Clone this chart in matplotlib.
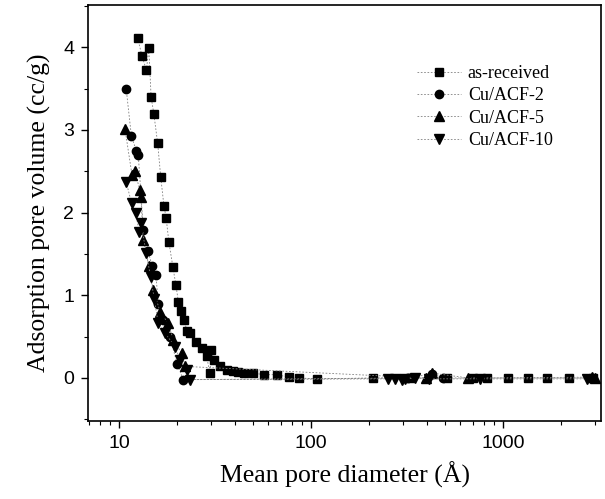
import numpy as np
import matplotlib.pyplot as plt
from matplotlib.ticker import MultipleLocator, LogLocator, NullFormatter

# pore size distribution
as_received_x = [12.5, 14.3, 13.2, 13.9, 14.7, 15.2, 15.9, 16.5, 17.15, 17.6, 18.2, 19.1,
                 19.8, 20.4, 20.95, 21.7, 22.7, 23.4, 25.2, 27.0, 28.6, 30.2, 29.8, 31.2,
                 33.6, 36.4, 39.4, 41.7, 44.6, 50.0, 56.9, 66.2, 76.7, 86.8, 107.6,
                 211, 328, 509, 699, 822, 1066, 1346, 1688, 2213, 2950]
as_received_y = [4.11, 3.99, 3.89, 3.72, 3.40, 3.19, 2.84, 2.43, 2.08, 1.94, 1.64, 1.34,
                 1.12, 0.92, 0.81, 0.70, 0.57, 0.54, 0.44, 0.36, 0.26, 0.34, 0.06, 0.22,
                 0.14, 0.10, 0.09, 0.07, 0.06, 0.06, 0.04, 0.04, 0.01, 0.0, -0.01,
                 0.0, 0.0, 0.0, 0.0, 0.0, 0.0, 0.0, 0.0, 0.0, 0.0]

acf2_x = [10.9, 11.6, 12.3, 12.6, 13.4, 14.2, 14.9, 15.6, 16.0, 16.9, 18.4, 20.1, 21.6,
          322, 425, 490]
acf2_y = [3.50, 2.93, 2.75, 2.70, 1.79, 1.53, 1.35, 1.24, 0.89, 0.70, 0.50, 0.17, -0.02,
          0.0, 0.05, 0.0]

acf5_x = [10.75, 11.7, 12.1, 12.85, 13.0, 13.4, 14.3, 15.1, 16.4, 18.05, 19.2, 21.2, 22.1,
          397, 425, 660, 2900, 3000]
acf5_y = [3.01, 2.45, 2.50, 2.27, 2.19, 1.67, 1.35, 1.06, 0.80, 0.66, 0.46, 0.30, 0.14,
          0.0, 0.06, 0.0, 0.01, 0.0]

acf10_x = [10.9, 11.65, 12.2, 12.97, 12.76, 13.9, 14.6, 15.3, 16.0, 17.4, 19.6, 20.8, 22.5,
           23.4, 252, 274, 297, 309, 349, 411, 759, 2729]
acf10_y = [2.37, 2.11, 1.99, 1.87, 1.77, 1.51, 1.22, 0.95, 0.66, 0.54, 0.38, 0.22, 0.10,
           -0.02, -0.01, -0.01, -0.02, -0.01, 0.0, -0.01, -0.01, -0.01]

labels = ['as-received', 'Cu/ACF-2', 'Cu/ACF-5', 'Cu/ACF-10']

serif = ['Liberation Serif', 'DejaVu Serif']
sans = ['Liberation Sans', 'DejaVu Sans']

fig = plt.figure(figsize=(6.05, 4.99), dpi=100)
ax = fig.add_axes([0.1455, 0.1563, 0.8479, 0.8337])

def order(x, y):
    x = np.array(x)
    y = np.array(y)
    i = np.argsort(x, kind='stable')
    return x[i], y[i]

line_kw = dict(color='0.5', lw=0.6, ls=(0, (2, 2)), mfc='black', mec='black')
x, y = order(as_received_x, as_received_y)
ax.plot(x, y, marker='s', ms=5.5, label=labels[0], **line_kw)
x, y = order(acf2_x, acf2_y)
ax.plot(x, y, marker='o', ms=6, label=labels[1], **line_kw)
x, y = order(acf5_x, acf5_y)
ax.plot(x, y, marker='^', ms=7, label=labels[2], **line_kw)
x, y = order(acf10_x, acf10_y)
ax.plot(x, y, marker='v', ms=7, label=labels[3], **line_kw)

ax.set_xscale('log')
ax.set_xlim(6.9, 3240)
ax.set_ylim(-0.52, 4.51)
ax.yaxis.set_major_locator(MultipleLocator(1))
ax.yaxis.set_minor_locator(MultipleLocator(0.5))
ax.xaxis.set_minor_locator(LogLocator(base=10, subs=np.arange(2, 10)))
ax.xaxis.set_minor_formatter(NullFormatter())
ax.set_xticks([10, 100, 1000])
ax.set_xticklabels(['10', '100', '1000'], family=sans, fontsize=14)
ax.set_yticks([0, 1, 2, 3, 4])
ax.set_yticklabels(['0', '1', '2', '3', '4'], family=sans, fontsize=14)

ax.tick_params(which='major', direction='out', length=5, width=1, top=False, right=False, pad=5)
ax.tick_params(which='minor', direction='out', length=3, width=0.8, top=False, right=False)
for s in ax.spines.values():
    s.set_linewidth(1.2)

ax.set_xlabel('Mean pore diameter (Å)', family=serif, fontsize=18.5, labelpad=7)
ax.set_ylabel('Adsorption pore volume (cc/g)', family=serif, fontsize=18.5, labelpad=9)

leg = ax.legend(loc='upper left', bbox_to_anchor=(0.61, 0.895), frameon=False,
                prop={'family': serif, 'size': 13}, handlelength=2.4,
                handletextpad=0.4, labelspacing=0.3)

plt.savefig('out.png', dpi=100)
